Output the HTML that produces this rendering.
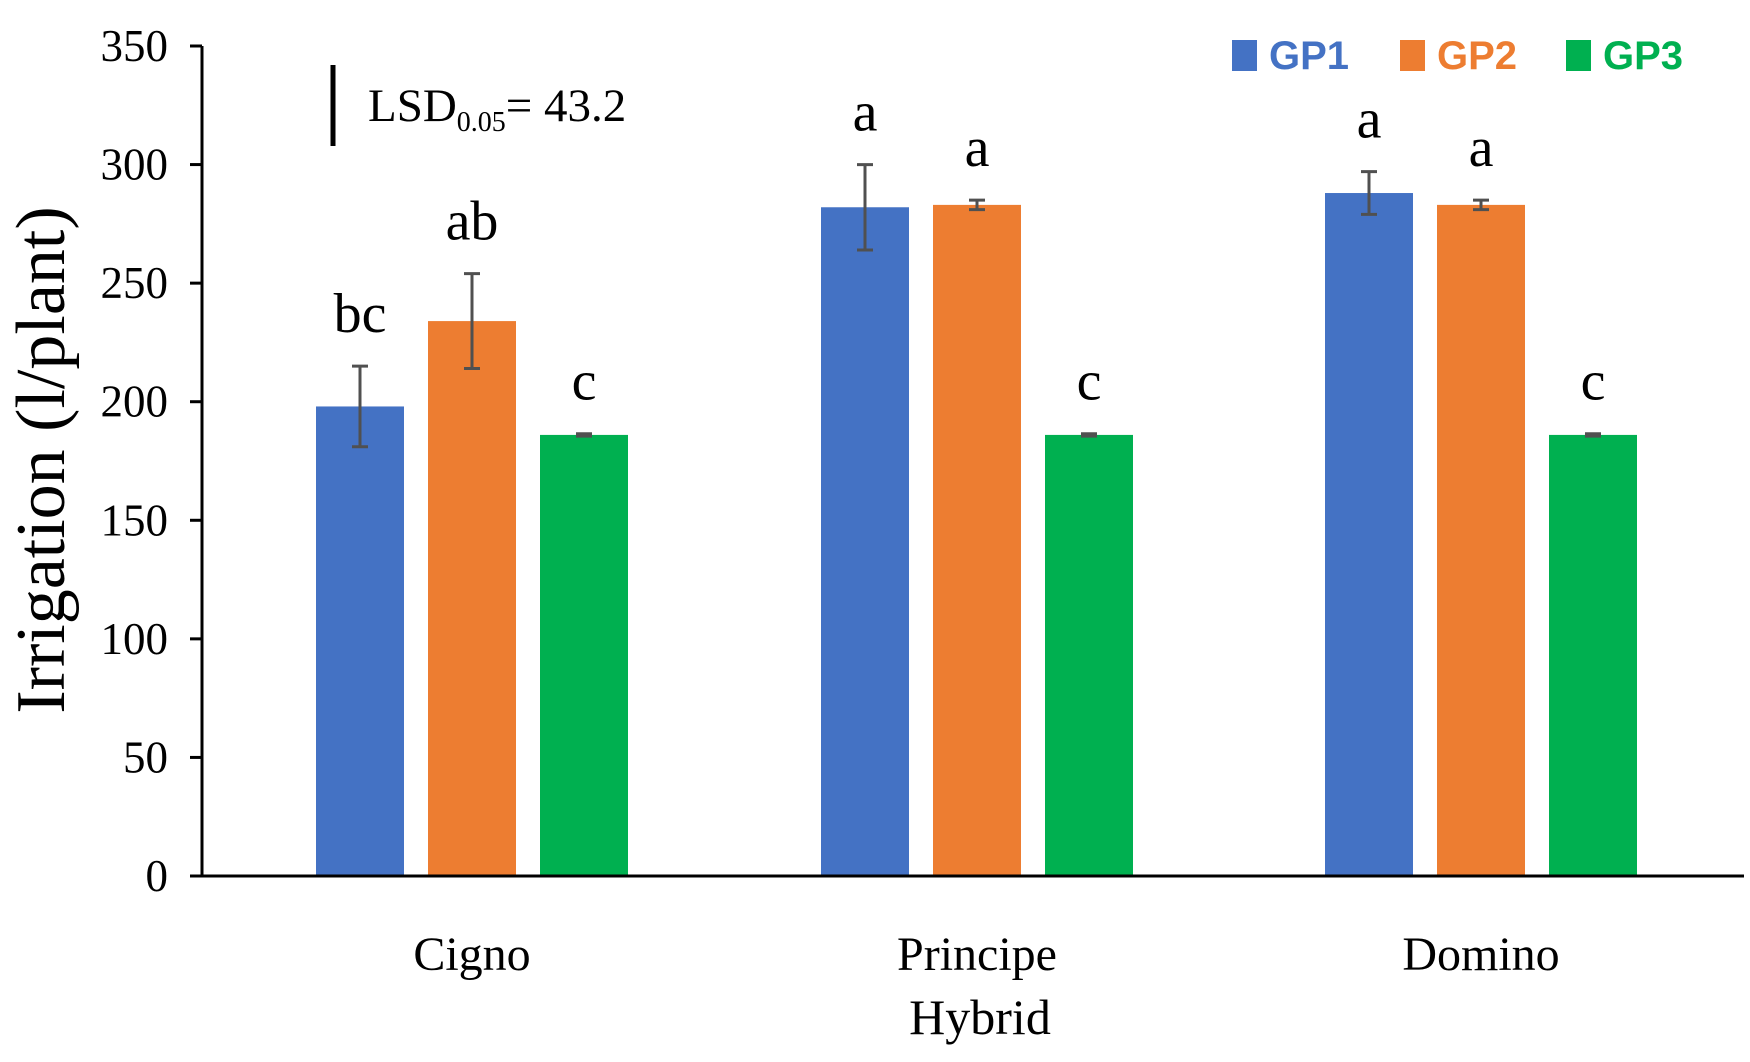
<!DOCTYPE html>
<html><head><meta charset="utf-8"><style>
html,body{margin:0;padding:0;background:#fff;}
svg{display:block;}
text{font-family:"Liberation Serif",serif;}
</style></head><body>
<svg id="chart" width="1750" height="1062" viewBox="0 0 1750 1062"></svg>
<script>
const categories = ["Cigno", "Principe", "Domino"];
const seriesNames = ["GP1", "GP2", "GP3"];
const gp1Values = [198, 282, 288];
const gp2Values = [234, 283, 283];
const gp3Values = [186, 186, 186];
const gp1Errors = [17, 18, 9];
const gp2Errors = [20, 2, 2];
const gp3Errors = [0.5, 0.5, 0.5];
const gp1Letters = ["bc", "a", "a"];
const gp2Letters = ["ab", "a", "a"];
const gp3Letters = ["c", "c", "c"];
const yTicks = [0, 50, 100, 150, 200, 250, 300, 350];

const colors = ["#4472C4", "#ED7D31", "#00B050"];
const values = [gp1Values, gp2Values, gp3Values];
const errors = [gp1Errors, gp2Errors, gp3Errors];
const letters = [gp1Letters, gp2Letters, gp3Letters];
const NS = "http://www.w3.org/2000/svg";
const svg = document.getElementById("chart");
const x0 = 202, x1 = 1744, yTop = 46, yBot = 876, yMax = 350;
function y(v){ return yBot - (v / yMax) * (yBot - yTop); }
const groupCenters = [472, 977, 1481];
function xCenter(ci, si){ return groupCenters[ci] + (si - 1) * 112; }
const barW = 88;
function el(tag, attrs, txt){
  const e = document.createElementNS(NS, tag);
  for (const k in attrs) e.setAttribute(k, attrs[k]);
  if (txt !== undefined) e.textContent = txt;
  svg.appendChild(e);
  return e;
}
for (let s = 0; s < 3; s++) {
  for (let c = 0; c < categories.length; c++) {
    const v = values[s][c], xc = xCenter(c, s);
    const r = el("rect", {x: xc - barW/2, y: y(v), width: barW, height: yBot - y(v), fill: colors[s]});
    
    
    const e = errors[s][c];
    const eg = el("path", {d: `M${xc},${y(v+e)}V${y(v-e)}M${xc-8},${y(v+e)}H${xc+8}M${xc-8},${y(v-e)}H${xc+8}`, stroke: "#505050", "stroke-width": 3, fill: "none"});
    
    
    const t = el("text", {x: xc, y: y(v+e) - 34, "text-anchor": "middle", "font-size": 56, fill: "#000"}, letters[s][c]);
    
    
  }
}
const ya = el("line", {x1: x0, y1: yTop, x2: x0, y2: yBot, stroke: "#000", "stroke-width": 3});


const xa = el("line", {x1: x0 - 12, y1: yBot, x2: x1, y2: yBot, stroke: "#000", "stroke-width": 3});


for (const t of yTicks) {
  const tk = el("line", {x1: x0 - 12, y1: y(t), x2: x0, y2: y(t), stroke: "#000", "stroke-width": 3});
  
  
  const lb = el("text", {x: 168, y: y(t) + 15, "text-anchor": "end", "font-size": 45, fill: "#000"}, String(t));
  
  
}
for (let c = 0; c < categories.length; c++) {
  const lb = el("text", {x: groupCenters[c], y: 970, "text-anchor": "middle", "font-size": 48, fill: "#000"}, categories[c]);
  
  
}
const legX = [1232, 1400, 1566];
for (let s = 0; s < 3; s++) {
  const sq = el("rect", {x: legX[s], y: 40, width: 25, height: 31, fill: colors[s]});
  
  
  const lt = el("text", {x: legX[s] + 37, y: 69, "font-size": 40, "font-weight": "bold", fill: colors[s], style: "font-family:'Liberation Sans',sans-serif"}, seriesNames[s]);
  
  
}
</script>
<div style="position:absolute;left:0;top:0;width:1750px;height:1062px;pointer-events:none;">
<svg width="1750" height="1062" style="position:absolute;left:0;top:0">
  <line x1="333" y1="65" x2="333" y2="146" stroke="#000" stroke-width="5"/>
  <text x="368" y="121" font-size="47" font-family="Liberation Serif, serif">LSD<tspan font-size="28" dy="10">0.05</tspan><tspan dy="-10">= 43.2</tspan></text>
  <text transform="translate(64,460) rotate(-90)" text-anchor="middle" font-size="70" font-family="Liberation Serif, serif">Irrigation (l/plant)</text>
  <text x="980" y="1034" text-anchor="middle" font-size="50" font-family="Liberation Serif, serif">Hybrid</text>
</svg>
</div>
</body></html>
